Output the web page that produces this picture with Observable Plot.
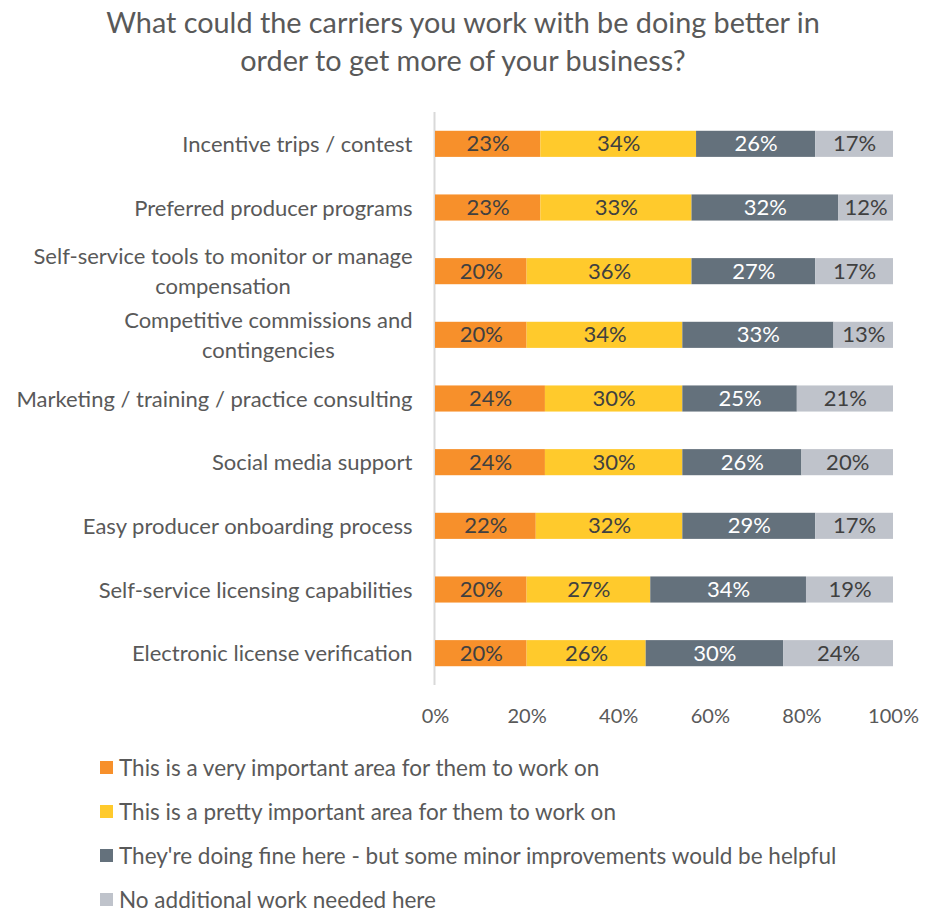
<!DOCTYPE html>
<html><head><meta charset="utf-8">
<script src="https://cdn.jsdelivr.net/npm/d3@7"></script>
<script src="https://cdn.jsdelivr.net/npm/@observablehq/plot@0.6"></script>
<style>
body{margin:0;background:#fff;font-family:Lato,sans-serif;width:926px;}
#title{text-align:center;color:#595959;font-size:28.8px;line-height:38px;padding-top:3px;height:77px;}
#chart svg{display:block;}
#legend{padding-left:100px;}
.row{height:44px;display:flex;align-items:center;color:#595959;font-size:22.5px;}
.sw{width:13px;height:13px;margin-right:6px;display:inline-block;flex:none;}
</style></head><body>
<div id="title">What could the carriers you work with be doing better in<br>order to get more of your business?</div>
<div id="chart"></div>
<div id="legend"></div>
<script>
const categories = [
  "Incentive trips / contest",
  "Preferred producer programs",
  "Self-service tools to monitor or manage\ncompensation",
  "Competitive commissions and\ncontingencies",
  "Marketing / training / practice consulting",
  "Social media support",
  "Easy producer onboarding process",
  "Self-service licensing capabilities",
  "Electronic license verification"
];
const seriesNames = [
  "This is a very important area for them to work on",
  "This is a pretty important area for them to work on",
  "They're doing fine here - but some minor improvements would be helpful",
  "No additional work needed here"
];
const veryImportant   = [23, 23, 20, 20, 24, 24, 22, 20, 20];
const prettyImportant = [34, 33, 36, 34, 30, 30, 32, 27, 26];
const doingFine       = [26, 32, 27, 33, 25, 26, 29, 34, 30];
const noWorkNeeded    = [17, 12, 17, 13, 21, 20, 17, 19, 24];
const xTicks = [0, 20, 40, 60, 80, 100];
const colors = ["#f7902b", "#ffca2c", "#64717c", "#bfc3cb"];

const seriesValues = [veryImportant, prettyImportant, doingFine, noWorkNeeded];
const data = [];
categories.forEach((c, i) => {
  seriesNames.forEach((s, j) => data.push({category: c, series: s, si: j, value: seriesValues[j][i]}));
});

const stackOpts = {x: "value", y: "category", z: "series", order: seriesNames};
const plot = Plot.plot({
  width: 926,
  height: 665,
  marginLeft: 435,
  marginRight: 33,
  marginTop: 32,
  marginBottom: 60,
  style: {fontFamily: "Lato, sans-serif", fontSize: "20px", color: "#595959", background: "transparent"},
  x: {domain: [0, 100], label: null},
  y: {domain: categories, paddingInner: 0.59, paddingOuter: 0.295, round: false, label: null},
  color: {domain: seriesNames, range: colors},
  marks: [
    Plot.axisX({ticks: xTicks, tickFormat: d => d + "%", tickSize: 0, tickPadding: 23, fontSize: 20, fill: "#595959", label: null}),
    Plot.axisY({tickSize: 0, tickPadding: 23, fontSize: 22, lineHeight: 1.36, dy: -2, fill: "#595959", label: null}),
    Plot.ruleX([0], {stroke: "#d9d9d9", strokeWidth: 2, dx: -1}),
    Plot.barX(data, Plot.stackX({...stackOpts, fill: "series"})),
    Plot.textX(data, Plot.filter(d => d.si !== 2, Plot.stackX({...stackOpts, text: d => d.value + "%", fill: "#404040", fontSize: 22}))),
    Plot.textX(data, Plot.filter(d => d.si === 2, Plot.stackX({...stackOpts, text: d => d.value + "%", fill: "#ffffff", fontSize: 22})))
  ]
});
document.getElementById("chart").appendChild(plot);

// center multi-line y tick labels within their right-aligned block
plot.querySelectorAll("text").forEach(t => {
  const spans = t.querySelectorAll("tspan");
  if (spans.length > 1) {
    const w = t.getBBox().width;
    t.setAttribute("text-anchor", "middle");
    const tr = t.getAttribute("transform") || "";
    t.setAttribute("transform", tr + ` translate(${-w / 2},0)`);
  }
});

const legend = document.getElementById("legend");
seriesNames.forEach((s, j) => {
  const row = document.createElement("div");
  row.className = "row";
  const sw = document.createElement("span");
  sw.className = "sw";
  sw.style.background = colors[j];
  row.appendChild(sw);
  row.appendChild(document.createTextNode(s));
  legend.appendChild(row);
});
</script>
</body></html>
